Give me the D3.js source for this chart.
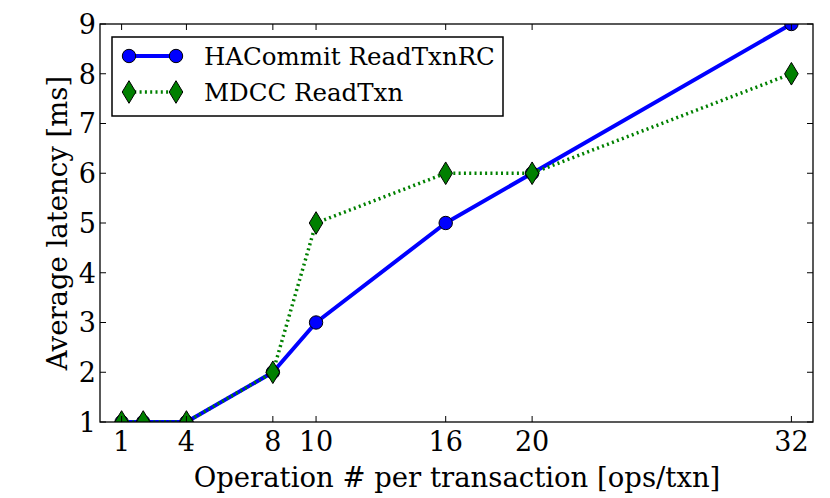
<!DOCTYPE html>
<html>
<head>
<meta charset="utf-8">
<script src="https://cdn.jsdelivr.net/npm/d3@7"></script>
<style>
body { margin: 0; background: #fff; }
text { font-family: 'DejaVu Serif', serif; fill: #000; }
</style>
</head>
<body>
<script>
// data
var opsPerTxn = [1, 2, 4, 8, 10, 16, 20, 32];
var haCommitLatency = [1, 1, 1, 2, 3, 5, 6, 9];
var mdccLatency = [1, 1, 1, 2, 5, 6, 6, 8];
var xTicks = [1, 4, 8, 10, 16, 20, 32];
var yTicks = [1, 2, 3, 4, 5, 6, 7, 8, 9];
var seriesNames = ['HACommit ReadTxnRC', 'MDCC ReadTxn'];

var width = 830, height = 498;
var plotLeft = 100, plotRight = 813, plotTop = 24, plotBottom = 422;
var colorBlue = '#0000ff', colorGreen = '#008000';
var tickFont = 27, labelFont = 27.5, legendFont = 24.5, tickLen = 6;

var svg = d3.select('body').append('svg')
            .attr('width', width)
            .attr('height', height);

var x = d3.scaleLinear().domain([0, 33]).range([plotLeft, plotRight]);
var y = d3.scaleLinear().domain([1, 9]).range([plotBottom, plotTop]);

svg.append('defs').append('clipPath')
   .attr('id', 'plotClip')
   .append('rect')
   .attr('x', plotLeft).attr('y', plotTop)
   .attr('width', plotRight - plotLeft).attr('height', plotBottom - plotTop);

var plot = svg.append('g').attr('clip-path', 'url(#plotClip)');

var line = d3.line()
             .x(function(d, i){ return x(opsPerTxn[i]); })
             .y(function(d){ return y(d); });

function diamondPath(cx, cy) {
  var hw = 6.8, hh = 11.3;
  return 'M' + cx + ',' + (cy - hh) + 'L' + (cx + hw) + ',' + cy +
         'L' + cx + ',' + (cy + hh) + 'L' + (cx - hw) + ',' + cy + 'Z';
}

// blue series
plot.append('path')
    .datum(haCommitLatency)
    .attr('d', line)
    .attr('fill', 'none')
    .attr('stroke', colorBlue)
    .attr('stroke-width', 4)
    .attr('stroke-linejoin', 'round');
plot.selectAll('.dotHA')
    .data(haCommitLatency)
    .enter().append('circle')
    .attr('cx', function(d, i){ return x(opsPerTxn[i]); })
    .attr('cy', function(d){ return y(d); })
    .attr('r', 6.7)
    .attr('fill', colorBlue)
    .attr('stroke', '#000')
    .attr('stroke-width', 1);

// green series
plot.append('path')
    .datum(mdccLatency)
    .attr('d', line)
    .attr('fill', 'none')
    .attr('stroke', colorGreen)
    .attr('stroke-width', 3.5)
    .attr('stroke-dasharray', '2,3.3');
plot.selectAll('.dotMDCC')
    .data(mdccLatency)
    .enter().append('path')
    .attr('d', function(d, i){ return diamondPath(x(opsPerTxn[i]), y(d)); })
    .attr('fill', colorGreen)
    .attr('stroke', '#000')
    .attr('stroke-width', 1);

// frame
svg.append('rect')
   .attr('x', plotLeft).attr('y', plotTop)
   .attr('width', plotRight - plotLeft).attr('height', plotBottom - plotTop)
   .attr('fill', 'none')
   .attr('stroke', '#000')
   .attr('stroke-width', 1.3);

// x ticks (inward, bottom and top)
var xAxis = svg.append('g');
xTicks.forEach(function(t){
  xAxis.append('line')
       .attr('x1', x(t)).attr('x2', x(t))
       .attr('y1', plotBottom).attr('y2', plotBottom - tickLen)
       .attr('stroke', '#000');
  xAxis.append('line')
       .attr('x1', x(t)).attr('x2', x(t))
       .attr('y1', plotTop).attr('y2', plotTop + tickLen)
       .attr('stroke', '#000');
  xAxis.append('text')
       .text(t)
       .attr('x', x(t))
       .attr('y', 451)
       .attr('text-anchor', 'middle')
       .style('font-size', tickFont);
});

// y ticks (inward, left and right)
var yAxis = svg.append('g');
yTicks.forEach(function(t){
  yAxis.append('line')
       .attr('x1', plotLeft).attr('x2', plotLeft + tickLen)
       .attr('y1', y(t)).attr('y2', y(t))
       .attr('stroke', '#000');
  yAxis.append('line')
       .attr('x1', plotRight).attr('x2', plotRight - tickLen)
       .attr('y1', y(t)).attr('y2', y(t))
       .attr('stroke', '#000');
  yAxis.append('text')
       .text(t)
       .attr('x', plotLeft - 4)
       .attr('y', y(t) + 9.8)
       .attr('text-anchor', 'end')
       .style('font-size', tickFont);
});

// axis labels
svg.append('text')
   .text('Operation # per transaction [ops/txn]')
   .attr('x', 457)
   .attr('y', 487)
   .attr('text-anchor', 'middle')
   .style('font-size', labelFont);
svg.append('text')
   .text('Average latency [ms]')
   .attr('transform', 'translate(67,' + ((plotTop + plotBottom) / 2) + ') rotate(-90)')
   .attr('text-anchor', 'middle')
   .style('font-size', labelFont);

// legend
var legend = svg.append('g');
legend.append('rect')
      .attr('x', 112).attr('y', 37)
      .attr('width', 391).attr('height', 79)
      .attr('fill', '#fff')
      .attr('stroke', '#000')
      .attr('stroke-width', 1.5);
var rowY = [56, 92];
var lx1 = 129, lx2 = 176;
legend.append('line')
      .attr('x1', lx1).attr('x2', lx2)
      .attr('y1', rowY[0]).attr('y2', rowY[0])
      .attr('stroke', colorBlue)
      .attr('stroke-width', 4);
[lx1, lx2].forEach(function(px){
  legend.append('circle')
        .attr('cx', px).attr('cy', rowY[0]).attr('r', 6.7)
        .attr('fill', colorBlue)
        .attr('stroke', '#000');
});
legend.append('line')
      .attr('x1', lx1).attr('x2', lx2)
      .attr('y1', rowY[1]).attr('y2', rowY[1])
      .attr('stroke', colorGreen)
      .attr('stroke-width', 3.5)
      .attr('stroke-dasharray', '2,3.3');
[lx1, lx2].forEach(function(px){
  legend.append('path')
        .attr('d', diamondPath(px, rowY[1]))
        .attr('fill', colorGreen)
        .attr('stroke', '#000');
});
seriesNames.forEach(function(name, i){
  legend.append('text')
        .text(name)
        .attr('x', 204)
        .attr('y', rowY[i] + 9)
        .style('font-size', legendFont);
});
</script>
</body>
</html>
